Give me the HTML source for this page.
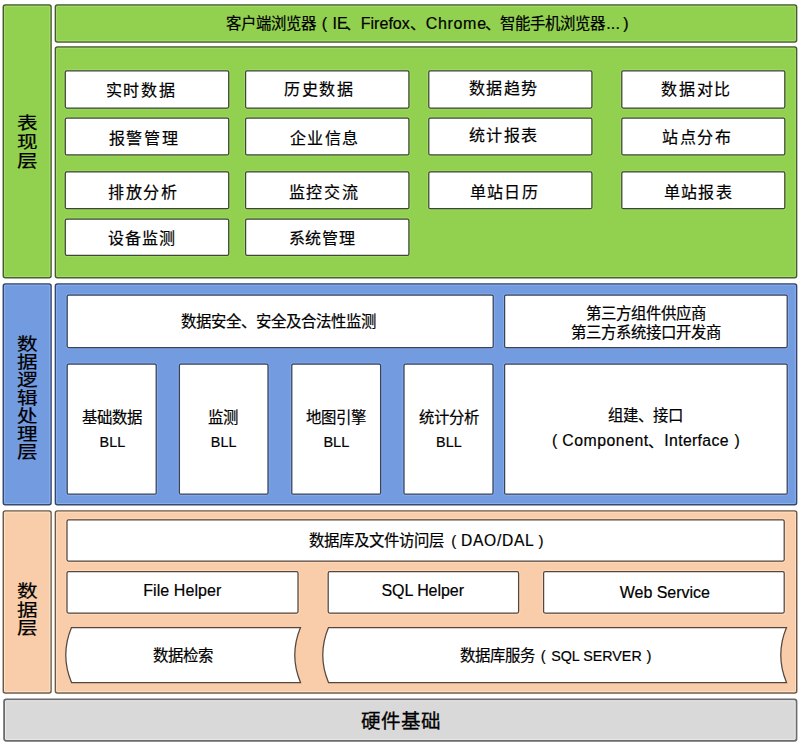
<!DOCTYPE html>
<html lang="zh-CN">
<head>
<meta charset="utf-8">
<style>
html,body{margin:0;padding:0;background:#fff;}
body{width:800px;height:746px;position:relative;overflow:hidden;font-family:"Liberation Sans",sans-serif;}
svg{position:absolute;left:0;top:0;}
.S{font-family:"Liberation Sans",sans-serif;fill:#000;}
.R{font-family:"Liberation Serif",serif;fill:#000;}
</style>
</head>
<body>
<svg width="800" height="746" viewBox="0 0 800 746">
<g stroke-width="1.5">
<g fill="#92d050" stroke="#475a2f">
<rect x="3.3" y="5" width="47.75" height="272.8" rx="2"/>
<rect x="55.4" y="5" width="741.2" height="37" rx="2"/>
<rect x="55.4" y="47" width="741.2" height="230.8" rx="2"/>
</g>
<g fill="#739be0" stroke="#34466a">
<rect x="3.3" y="283.9" width="47.75" height="220.9" rx="2"/>
<rect x="55.4" y="283.9" width="741.2" height="220.9" rx="2"/>
</g>
<g fill="#f9cda9" stroke="#6e5847">
<rect x="3.3" y="510.9" width="47.75" height="182" rx="2"/>
<rect x="55.4" y="510.9" width="741.3" height="182" rx="2"/>
</g>
<rect x="4.1" y="699.4" width="792.4" height="41.4" rx="2" fill="#d9d9d9" stroke="#6b6b6b" stroke-width="1.8"/>
</g>
<g fill="none" stroke-width="0.9">
<g stroke="#a6e06e">
<rect x="4.55" y="6.25" width="45.25" height="270.30" rx="0.75"/>
<rect x="56.65" y="6.25" width="738.70" height="34.50" rx="0.75"/>
<rect x="56.65" y="48.25" width="738.70" height="228.30" rx="0.75"/>
</g>
<g stroke="#8db2f2">
<rect x="4.55" y="285.15" width="45.25" height="218.40" rx="0.75"/>
<rect x="56.65" y="285.15" width="738.70" height="218.40" rx="0.75"/>
</g>
<g stroke="#fde3cd">
<rect x="4.55" y="512.15" width="45.25" height="179.50" rx="0.75"/>
<rect x="56.65" y="512.15" width="738.80" height="179.50" rx="0.75"/>
</g>
<rect x="5.5" y="700.8" width="789.6" height="38.6" rx="1" stroke="#eeeae8"/>
</g>
<g fill="none" stroke-width="0.8">
<g stroke="#a3de6c">
<rect x="64.20" y="69.70" width="165.60" height="39.40" rx="2.60"/>
<rect x="244.50" y="69.70" width="165.50" height="39.40" rx="2.60"/>
<rect x="427.70" y="69.70" width="165.30" height="39.40" rx="2.60"/>
<rect x="620.70" y="69.70" width="165.20" height="39.40" rx="2.60"/>
<rect x="64.20" y="117.00" width="165.60" height="39.00" rx="2.60"/>
<rect x="244.50" y="117.00" width="165.50" height="39.00" rx="2.60"/>
<rect x="427.70" y="117.00" width="165.30" height="39.00" rx="2.60"/>
<rect x="620.70" y="117.00" width="165.20" height="39.00" rx="2.60"/>
<rect x="64.20" y="170.80" width="165.60" height="39.00" rx="2.60"/>
<rect x="244.50" y="170.80" width="165.50" height="39.00" rx="2.60"/>
<rect x="427.70" y="170.80" width="165.30" height="39.00" rx="2.60"/>
<rect x="620.70" y="170.80" width="165.20" height="39.00" rx="2.60"/>
<rect x="64.20" y="218.10" width="165.60" height="38.30" rx="2.60"/>
<rect x="244.50" y="218.10" width="165.50" height="38.30" rx="2.60"/>
</g>
<g stroke="#8aaff0">
<rect x="66.10" y="293.90" width="428.20" height="54.80" rx="2.60"/>
<rect x="503.50" y="293.90" width="284.80" height="54.80" rx="2.60"/>
<rect x="66.10" y="362.90" width="91.20" height="132.40" rx="2.60"/>
<rect x="178.30" y="362.90" width="90.80" height="132.40" rx="2.60"/>
<rect x="290.70" y="362.90" width="91.00" height="132.40" rx="2.60"/>
<rect x="402.90" y="362.90" width="91.20" height="132.40" rx="2.60"/>
<rect x="503.50" y="362.90" width="284.80" height="132.40" rx="2.60"/>
</g>
<g stroke="#fde0c8">
<rect x="65.90" y="518.80" width="719.40" height="43.40" rx="2.60"/>
<rect x="65.90" y="570.60" width="233.20" height="43.60" rx="2.60"/>
<rect x="327.10" y="570.60" width="192.60" height="43.60" rx="2.60"/>
<rect x="542.50" y="570.60" width="242.80" height="43.60" rx="2.60"/>
</g>
</g>
<g stroke-width="1.25" fill="#fff">
<g stroke="#3f4636">
<rect x="65.3" y="70.8" width="163.4" height="37.2" rx="1.5"/>
<rect x="245.6" y="70.8" width="163.3" height="37.2" rx="1.5"/>
<rect x="428.8" y="70.8" width="163.1" height="37.2" rx="1.5"/>
<rect x="621.8" y="70.8" width="163" height="37.2" rx="1.5"/>
<rect x="65.3" y="118.1" width="163.4" height="36.8" rx="1.5"/>
<rect x="245.6" y="118.1" width="163.3" height="36.8" rx="1.5"/>
<rect x="428.8" y="118.1" width="163.1" height="36.8" rx="1.5"/>
<rect x="621.8" y="118.1" width="163" height="36.8" rx="1.5"/>
<rect x="65.3" y="171.9" width="163.4" height="36.8" rx="1.5"/>
<rect x="245.6" y="171.9" width="163.3" height="36.8" rx="1.5"/>
<rect x="428.8" y="171.9" width="163.1" height="36.8" rx="1.5"/>
<rect x="621.8" y="171.9" width="163" height="36.8" rx="1.5"/>
<rect x="65.3" y="219.2" width="163.4" height="36.1" rx="1.5"/>
<rect x="245.6" y="219.2" width="163.3" height="36.1" rx="1.5"/>
</g>
<g stroke="#394358">
<rect x="67.2" y="295" width="426" height="52.6" rx="1.5"/>
<rect x="504.6" y="295" width="282.6" height="52.6" rx="1.5"/>
<rect x="67.2" y="364" width="89" height="130.2" rx="1.5"/>
<rect x="179.4" y="364" width="88.6" height="130.2" rx="1.5"/>
<rect x="291.8" y="364" width="88.8" height="130.2" rx="1.5"/>
<rect x="404" y="364" width="89" height="130.2" rx="1.5"/>
<rect x="504.6" y="364" width="282.6" height="130.2" rx="1.5"/>
</g>
<g stroke="#54463e">
<rect x="67" y="519.9" width="717.2" height="41.2" rx="1.5"/>
<rect x="67" y="571.7" width="231" height="41.4" rx="1.5"/>
<rect x="328.2" y="571.7" width="190.4" height="41.4" rx="1.5"/>
<rect x="543.6" y="571.7" width="240.6" height="41.4" rx="1.5"/>
<path d="M71.5,627.5 L300.5,627.5 A71.5,71.5 0 0 0 300.5,682.5 L71.5,682.5 A71.5,71.5 0 0 1 71.5,627.5 Z"/>
<path d="M328.5,627.5 L786.5,627.5 A71.5,71.5 0 0 0 786.5,682.5 L328.5,682.5 A71.5,71.5 0 0 1 328.5,627.5 Z"/>
</g>
</g>
<text x="225.95" y="29.07" class="S" font-size="15.4" stroke="#000" stroke-width="0.2">客户端浏览器</text>
<text x="321.80" y="29.07" class="S" font-size="16" stroke="#000" stroke-width="0.2">(</text>
<text x="332.50" y="29.07" class="S" font-size="16" stroke="#000" stroke-width="0.2">IE</text>
<text x="344.75" y="29.07" class="S" font-size="15.4" stroke="#000" stroke-width="0.2">、</text>
<text x="360.75" y="29.07" class="S" font-size="16" letter-spacing="0.02" stroke="#000" stroke-width="0.2">Firefox</text>
<text x="409.95" y="29.07" class="S" font-size="15.4" stroke="#000" stroke-width="0.2">、</text>
<text x="425.65" y="29.07" class="S" font-size="16" letter-spacing="0.70" stroke="#000" stroke-width="0.2">Chrome</text>
<text x="485.15" y="29.07" class="S" font-size="15.4" stroke="#000" stroke-width="0.2">、</text>
<text x="500.00" y="29.07" class="S" font-size="15.4" stroke="#000" stroke-width="0.2">智能手机浏览器</text>
<text x="606.30" y="29.07" class="S" font-size="16" letter-spacing="0.10" stroke="#000" stroke-width="0.2">...</text>
<text x="623.15" y="29.07" class="S" font-size="16" stroke="#000" stroke-width="0.2">)</text>
<text x="105.80" y="95.60" class="R" font-size="16" letter-spacing="1.67" stroke="#000" stroke-width="0.2" fill="#000">实时数据</text>
<text x="284.10" y="94.65" class="R" font-size="16" letter-spacing="1.67" stroke="#000" stroke-width="0.2" fill="#000">历史数据</text>
<text x="469.10" y="94.35" class="R" font-size="16" letter-spacing="1.40" stroke="#000" stroke-width="0.2" fill="#000">数据趋势</text>
<text x="661.40" y="95.15" class="R" font-size="16" letter-spacing="1.58" stroke="#000" stroke-width="0.2" fill="#000">数据对比</text>
<text x="108.50" y="143.57" class="R" font-size="16" letter-spacing="1.67" stroke="#000" stroke-width="0.2" fill="#000">报警管理</text>
<text x="289.90" y="143.73" class="R" font-size="16" letter-spacing="1.42" stroke="#000" stroke-width="0.2" fill="#000">企业信息</text>
<text x="468.60" y="141.47" class="R" font-size="16" letter-spacing="1.57" stroke="#000" stroke-width="0.2" fill="#000">统计报表</text>
<text x="662.35" y="143.40" class="R" font-size="16" letter-spacing="1.57" stroke="#000" stroke-width="0.2" fill="#000">站点分布</text>
<text x="108.10" y="197.88" class="R" font-size="16" letter-spacing="1.53" stroke="#000" stroke-width="0.2" fill="#000">排放分析</text>
<text x="288.80" y="198.07" class="R" font-size="16" letter-spacing="1.57" stroke="#000" stroke-width="0.2" fill="#000">监控交流</text>
<text x="469.75" y="197.62" class="R" font-size="16" letter-spacing="1.27" stroke="#000" stroke-width="0.2" fill="#000">单站日历</text>
<text x="663.55" y="197.95" class="R" font-size="16" letter-spacing="1.38" stroke="#000" stroke-width="0.2" fill="#000">单站报表</text>
<text x="108.10" y="244.12" class="R" font-size="16" letter-spacing="1.10" stroke="#000" stroke-width="0.2" fill="#000">设备监测</text>
<text x="288.80" y="243.68" class="R" font-size="16" letter-spacing="0.70" stroke="#000" stroke-width="0.2" fill="#000">系统管理</text>
<text x="181.40" y="327.30" class="S" font-size="15.4" stroke="#000" stroke-width="0.2">数据安全、安全及合法性监测</text>
<text x="585.92" y="319.27" class="S" font-size="15.4" stroke="#000" stroke-width="0.2">第三方组件供应商</text>
<text x="570.53" y="338.38" class="S" font-size="15.4" stroke="#000" stroke-width="0.2">第三方系统接口开发商</text>
<text x="82.12" y="422.98" class="S" font-size="15.4" stroke="#000" stroke-width="0.2">基础数据</text>
<text x="99.62" y="447.30" class="S" font-size="15.2" textLength="25.58" lengthAdjust="spacingAndGlyphs" stroke="#000" stroke-width="0.2">BLL</text>
<text x="208.25" y="423.07" class="S" font-size="15.4" stroke="#000" stroke-width="0.2">监测</text>
<text x="210.82" y="447.40" class="S" font-size="15.2" textLength="25.58" lengthAdjust="spacingAndGlyphs" stroke="#000" stroke-width="0.2">BLL</text>
<text x="306.30" y="422.98" class="S" font-size="15.4" stroke="#000" stroke-width="0.2">地图引擎</text>
<text x="323.40" y="447.30" class="S" font-size="15.2" textLength="25.85" lengthAdjust="spacingAndGlyphs" stroke="#000" stroke-width="0.2">BLL</text>
<text x="418.68" y="422.98" class="S" font-size="15.4" stroke="#000" stroke-width="0.2">统计分析</text>
<text x="436.12" y="447.30" class="S" font-size="15.2" textLength="25.58" lengthAdjust="spacingAndGlyphs" stroke="#000" stroke-width="0.2">BLL</text>
<text x="608.33" y="421.07" class="S" font-size="15.4" stroke="#000" stroke-width="0.2">组建、接口</text>
<text x="552.00" y="445.60" class="S" font-size="15.8" stroke="#000" stroke-width="0.2">(</text>
<text x="562.25" y="445.60" class="S" font-size="15.8" letter-spacing="0.54" stroke="#000" stroke-width="0.2">Component</text>
<text x="648.15" y="446.60" class="S" font-size="15.3" stroke="#000" stroke-width="0.2">、</text>
<text x="664.30" y="445.60" class="S" font-size="15.8" letter-spacing="0.34" stroke="#000" stroke-width="0.2">Interface</text>
<text x="734.55" y="445.60" class="S" font-size="15.8" stroke="#000" stroke-width="0.2">)</text>
<text x="309.25" y="546.23" class="S" font-size="15.4" stroke="#000" stroke-width="0.2">数据库及文件访问层</text>
<text x="451.20" y="546.23" class="S" font-size="15.0" stroke="#000" stroke-width="0.2">(</text>
<text x="461.00" y="546.23" class="S" font-size="15.6" letter-spacing="0.70" stroke="#000" stroke-width="0.2">DAO/DAL</text>
<text x="538.50" y="546.23" class="S" font-size="15.0" stroke="#000" stroke-width="0.2">)</text>
<text x="143.15" y="595.75" class="S" font-size="16" letter-spacing="0.08" stroke="#000" stroke-width="0.2">File Helper</text>
<text x="381.50" y="595.50" class="S" font-size="16" letter-spacing="-0.06" stroke="#000" stroke-width="0.2">SQL Helper</text>
<text x="619.75" y="598.00" class="S" font-size="16" letter-spacing="-0.03" stroke="#000" stroke-width="0.2">Web Service</text>
<text x="153.38" y="660.62" class="S" font-size="15.4" stroke="#000" stroke-width="0.2">数据检索</text>
<text x="459.70" y="660.98" class="S" font-size="15.4" stroke="#000" stroke-width="0.2">数据库服务</text>
<text x="540.70" y="660.98" class="S" font-size="14.8" stroke="#000" stroke-width="0.2">(</text>
<text x="551.20" y="660.98" class="S" font-size="15.2" textLength="90.51" lengthAdjust="spacingAndGlyphs" stroke="#000" stroke-width="0.2">SQL SERVER</text>
<text x="646.45" y="660.98" class="S" font-size="14.8" stroke="#000" stroke-width="0.2">)</text>
<text x="360.85" y="728.10" class="S" font-size="19.5" stroke="#000" stroke-width="0.3" fill="#000">硬件基础</text>
<text class="S" font-size="20" stroke="#000" stroke-width="0.25" transform="translate(17.05 129.47) scale(1.03 0.87)">表</text>
<text class="S" font-size="20" stroke="#000" stroke-width="0.25" transform="translate(17.05 147.74) scale(1.03 0.87)">现</text>
<text class="S" font-size="20" stroke="#000" stroke-width="0.25" transform="translate(17.31 166.63) scale(1.03 0.87)">层</text>
<text class="S" font-size="20" stroke="#000" stroke-width="0.25" transform="translate(17.07 349.62) scale(1.03 0.87)">数</text>
<text class="S" font-size="20" stroke="#000" stroke-width="0.25" transform="translate(17.33 367.73) scale(1.03 0.87)">据</text>
<text class="S" font-size="20" stroke="#000" stroke-width="0.25" transform="translate(17.20 385.61) scale(1.03 0.87)">逻</text>
<text class="S" font-size="20" stroke="#000" stroke-width="0.25" transform="translate(17.20 403.93) scale(1.03 0.87)">辑</text>
<text class="S" font-size="20" stroke="#000" stroke-width="0.25" transform="translate(17.20 422.02) scale(1.03 0.87)">处</text>
<text class="S" font-size="20" stroke="#000" stroke-width="0.25" transform="translate(17.20 440.02) scale(1.03 0.87)">理</text>
<text class="S" font-size="20" stroke="#000" stroke-width="0.25" transform="translate(17.46 457.68) scale(1.03 0.87)">层</text>
<text class="S" font-size="20" stroke="#000" stroke-width="0.25" transform="translate(16.77 597.32) scale(1.03 0.87)">数</text>
<text class="S" font-size="20" stroke="#000" stroke-width="0.25" transform="translate(17.03 615.73) scale(1.03 0.87)">据</text>
<text class="S" font-size="20" stroke="#000" stroke-width="0.25" transform="translate(17.16 633.58) scale(1.03 0.87)">层</text>
</svg>
</body>
</html>
